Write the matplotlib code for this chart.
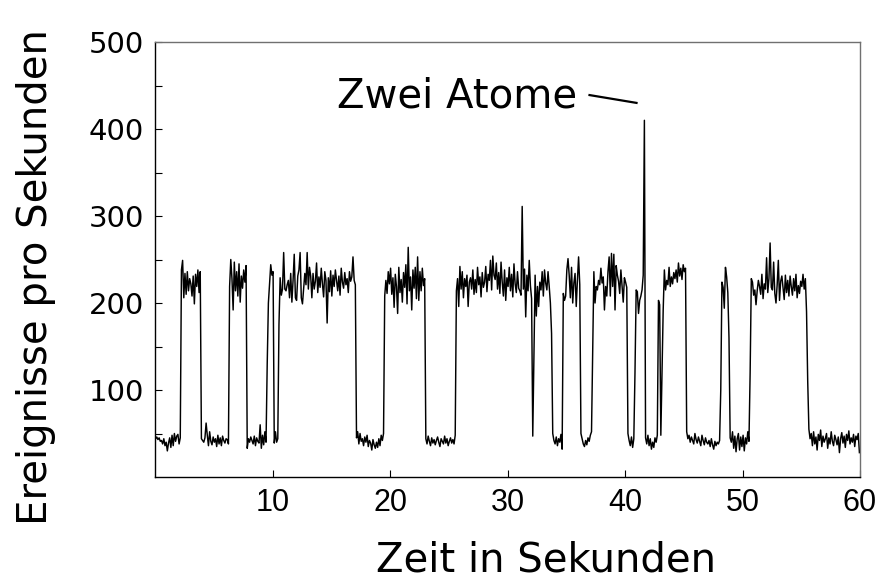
import numpy as np
import matplotlib
matplotlib.use('Agg')
import matplotlib.pyplot as plt

# Ereignisse pro Sekunden, eine Zeile = eine Sekunde (10 Werte a 0.1 s)
counts = [
    44, 46, 43, 45, 41, 42, 38, 44, 36, 40,
    30, 39, 45, 34, 48, 36, 50, 41, 47, 49,
    38, 45, 238, 249, 206, 234, 210, 236, 214, 228,
    222, 208, 231, 199, 233, 219, 238, 212, 236, 44,
    42, 40, 45, 62, 48, 36, 52, 41, 37, 46,
    40, 44, 35, 48, 38, 45, 36, 47, 42, 39,
    44, 43, 38, 219, 250, 228, 192, 247, 214, 236,
    208, 245, 201, 231, 217, 238, 224, 243, 33, 44,
    40, 46, 42, 38, 47, 36, 45, 41, 39, 60,
    33, 48, 37, 52, 40, 130, 200, 222, 244, 232,
    236, 39, 52, 40, 44, 175, 229, 209, 216, 258,
    216, 214, 221, 226, 206, 234, 201, 226, 256, 206,
    203, 231, 238, 258, 206, 199, 216, 234, 221, 258,
    216, 241, 231, 206, 234, 216, 225, 246, 212, 230,
    218, 240, 222, 207, 236, 226, 177, 229, 213, 237,
    208, 232, 219, 238, 226, 214, 231, 209, 240, 224,
    217, 235, 221, 228, 212, 236, 225, 230, 253, 226,
    221, 45, 52, 38, 50, 41, 44, 36, 46, 40,
    48, 35, 42, 39, 31, 43, 37, 33, 40, 34,
    44, 36, 48, 42, 50, 208, 226, 211, 236, 222,
    240, 210, 229, 195, 233, 219, 188, 241, 212, 227,
    201, 235, 218, 244, 199, 264, 214, 230, 192, 238,
    217, 241, 205, 253, 203, 236, 214, 240, 220, 228,
    44, 38, 47, 41, 36, 45, 39, 43, 37, 42,
    46, 40, 35, 44, 41, 38, 47, 39, 44, 36,
    41, 45, 39, 43, 38, 48, 214, 228, 196, 242,
    216, 236, 206, 228, 219, 232, 196, 224, 229, 216,
    238, 210, 227, 212, 241, 221, 230, 207, 235, 218,
    224, 242, 213, 233, 226, 249, 215, 254, 232, 227,
    246, 216, 235, 211, 247, 224, 208, 238, 203, 229,
    219, 241, 214, 233, 207, 245, 222, 212, 236, 217,
    214, 209, 311, 216, 239, 184, 232, 214, 249, 220,
    205, 47, 140, 232, 185, 219, 196, 224, 215, 236,
    208, 238, 223, 215, 236, 219, 200, 165, 50, 42,
    38, 46, 36, 44, 40, 49, 32, 211, 203, 208,
    238, 251, 232, 206, 241, 200, 223, 234, 196, 226,
    253, 221, 50, 44, 38, 35, 42, 37, 45, 41,
    48, 52, 140, 236, 200, 219, 215, 226, 221, 240,
    223, 230, 192, 219, 208, 236, 253, 208, 257, 219,
    256, 192, 243, 232, 225, 211, 238, 220, 201, 229,
    224, 218, 50, 42, 36, 46, 34, 44, 120, 215,
    213, 188, 203, 208, 215, 232, 410, 45, 38, 48,
    36, 44, 32, 40, 34, 45, 40, 48, 203, 198,
    48, 120, 192, 238, 215, 226, 221, 241, 219, 230,
    222, 235, 228, 238, 224, 246, 231, 240, 227, 244,
    236, 240, 52, 44, 48, 40, 46, 42, 38, 50,
    43, 39, 46, 41, 36, 48, 42, 37, 45, 40,
    38, 42, 35, 44, 37, 32, 41, 36, 40, 38,
    42, 100, 224, 218, 194, 241, 230, 212, 160, 45,
    40, 52, 33, 47, 29, 44, 50, 31, 46, 35,
    48, 30, 45, 38, 52, 41, 120, 228, 224, 209,
    215, 198, 214, 226, 219, 210, 233, 205, 222, 216,
    252, 212, 228, 269, 218, 215, 247, 211, 200, 221,
    249, 203, 225, 231, 217, 204, 232, 212, 226, 208,
    231, 219, 209, 228, 214, 233, 206, 220, 211, 225,
    219, 233, 216, 228, 190, 110, 55, 44, 50, 36,
    52, 38, 46, 31, 49, 42, 54, 35, 47, 40,
    44, 50, 33, 45, 38, 52, 41, 36, 48, 43,
    37, 46, 28, 44, 51, 39, 47, 34, 49, 42,
    53, 38, 45, 40, 49, 35, 47, 43, 50, 28,
]
bin_width = 0.1

x_ticks = [10, 20, 30, 40, 50, 60]
y_ticks = [100, 200, 300, 400, 500]
y_minor = [50, 150, 250, 350, 450]

note_text = 'Zwei Atome'
note_line_x = [36.98, 40.98]
note_line_y = [439, 430]

label_font = 'DejaVu Sans'

times = bin_width / 2 + bin_width * np.arange(len(counts))

fig = plt.figure(figsize=(8.8, 5.83), dpi=100)
ax = fig.add_axes([155 / 880, 1 - 477 / 583, 705 / 880, 435 / 583])

ax.plot(times, counts, color='black', lw=1.05)

ax.set_xlim(0, 60)
ax.set_ylim(0, 500)
ax.set_xticks(x_ticks)
ax.set_yticks(y_ticks)
ax.set_yticks(y_minor, minor=True)
ax.tick_params(axis='both', which='both', direction='in', length=5, width=0.8,
               top=False, right=False)
ax.tick_params(axis='x', pad=8)
ax.tick_params(axis='y', pad=8)
for lab in ax.get_xticklabels():
    lab.set_family(['Liberation Sans', 'DejaVu Sans'])
    lab.set_fontsize(22)
for lab in ax.get_yticklabels():
    lab.set_family(['DejaVu Sans'])
    lab.set_fontsize(21)

for side in ['top', 'right']:
    ax.spines[side].set_color('#707070')
for side in ax.spines:
    ax.spines[side].set_linewidth(1.0)

ax.set_xlabel('Zeit in Sekunden', family=label_font, fontsize=29)
ax.xaxis.set_label_coords(0.555, -0.145)
ax.set_ylabel('Ereignisse pro Sekunden', family=label_font, fontsize=29)
ax.yaxis.set_label_coords(-0.141, 0.46)

ax.text(35.9, 425, note_text, family=label_font, fontsize=29,
        ha='right', va='baseline')
ax.plot(note_line_x, note_line_y, color='black', lw=1.6)

fig.savefig('out.png', dpi=100)
